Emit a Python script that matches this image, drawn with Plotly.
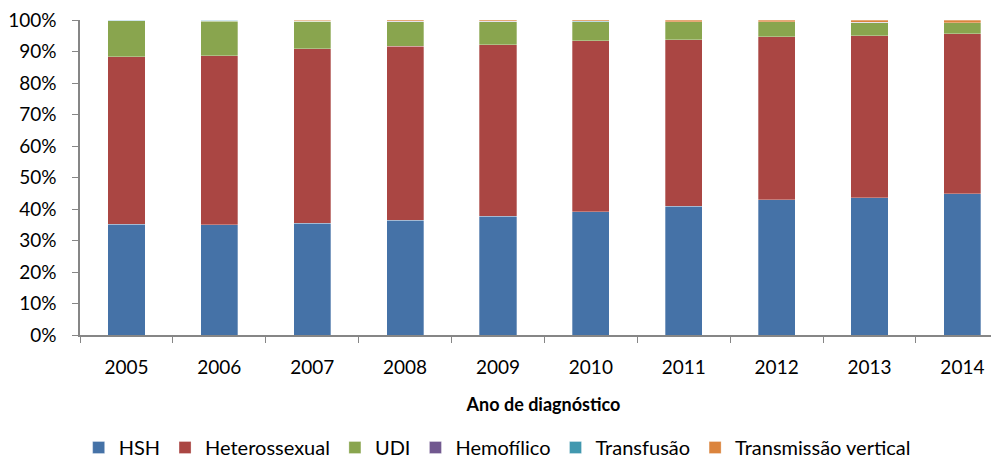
import plotly.graph_objects as go

years = ["2005", "2006", "2007", "2008", "2009", "2010", "2011", "2012", "2013", "2014"]
hsh = [35.1, 35.0, 35.4, 36.4, 37.7, 39.1, 40.9, 42.9, 43.5, 44.8]
heterossexual = [53.3, 53.7, 55.4, 55.2, 54.5, 54.3, 52.9, 51.8, 51.5, 50.8]
udi = [11.3, 10.9, 8.8, 7.9, 7.3, 6.0, 5.6, 4.7, 4.2, 3.5]
hemofilico = [0.1, 0.2, 0.05, 0.05, 0.05, 0.1, 0.05, 0.05, 0.05, 0.05]
transfusao = [0.1, 0.1, 0.05, 0.05, 0.05, 0.1, 0.05, 0.05, 0.05, 0.05]
transmissao_vertical = [0.1, 0.1, 0.3, 0.4, 0.4, 0.4, 0.5, 0.5, 0.7, 0.8]
y_ticks = [0, 10, 20, 30, 40, 50, 60, 70, 80, 90, 100]
y_tick_labels = ["0%", "10%", "20%", "30%", "40%", "50%", "60%", "70%", "80%", "90%", "100%"]

series = [
    ("HSH", hsh, "#4572A7"),
    ("Heterossexual", heterossexual, "#AA4643"),
    ("UDI", udi, "#89A54E"),
    ("Hemofílico", hemofilico, "#71588F"),
    ("Transfusão", transfusao, "#4198AF"),
    ("Transmissão vertical", transmissao_vertical, "#DB843D"),
]

font_family = "Lato, 'Open Sans', sans-serif"

fig = go.Figure()
for name, vals, color in series:
    fig.add_trace(go.Bar(
        x=years, y=vals, name=name,
        marker=dict(color=color, line=dict(color="rgba(255,255,255,0.5)", width=0.6)),
    ))

fig.update_layout(
    barmode="stack",
    bargap=0.6,
    width=999, height=459,
    margin=dict(l=72, r=0, t=12, b=131),
    plot_bgcolor="white",
    paper_bgcolor="white",
    font=dict(family=font_family, size=19, color="#000000"),
    legend=dict(
        orientation="h", x=0.45, xanchor="center", xref="paper",
        y=-0.358, yanchor="middle",
        font=dict(size=20),
        itemwidth=30,
        tracegroupgap=0,
        traceorder="normal",
    ),
    xaxis=dict(
        type="category",
        range=[-0.5, 9.48],
        tickson="boundaries",
        ticks="outside", ticklen=6, tickcolor="#868686",
        showline=True, linecolor="#868686", linewidth=1.5,
        showgrid=False,
        automargin=False,
        ticklabelstandoff=14,
        tickfont=dict(size=19),
        title=dict(text="<b>Ano de diagnóstico</b>", font=dict(size=18), standoff=22),
    ),
    yaxis=dict(
        range=[0, 100],
        tickmode="array",
        tickvals=y_ticks,
        ticktext=y_tick_labels,
        ticks="outside", ticklen=6, tickcolor="#868686",
        showline=True, linecolor="#868686", linewidth=1.5,
        showgrid=False, zeroline=False,
        automargin=False,
        ticklabeloverflow="allow",
        ticklabelstandoff=12,
        tickfont=dict(size=19),
    ),
)

fig.write_html("out.html")
